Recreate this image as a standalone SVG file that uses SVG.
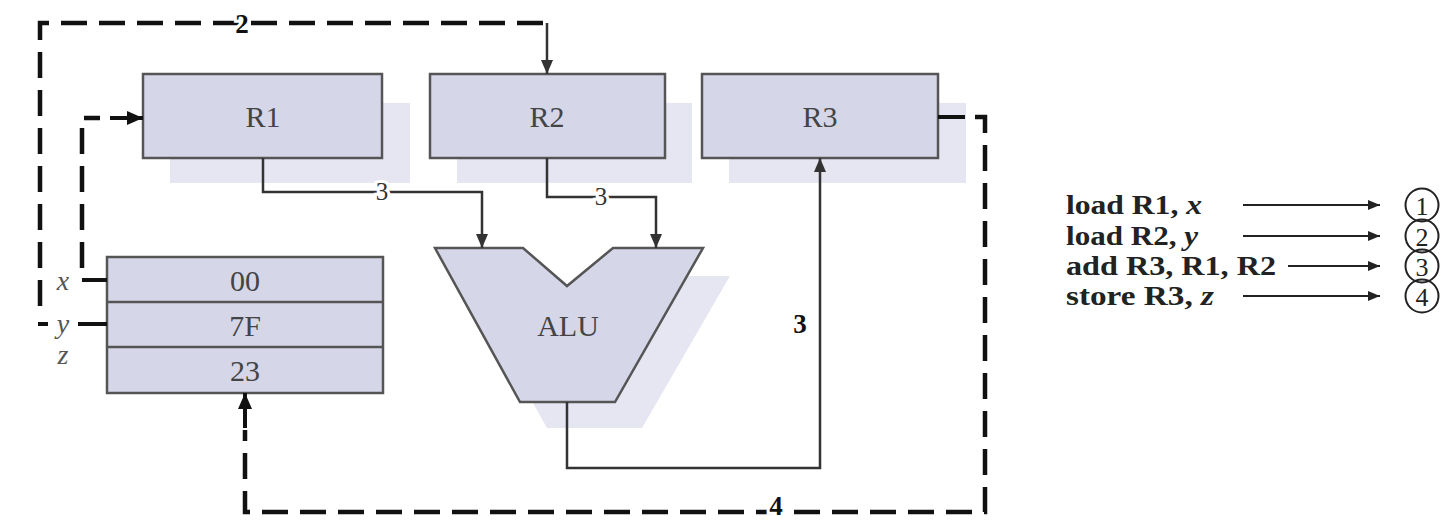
<svg xmlns="http://www.w3.org/2000/svg" width="1456" height="520" viewBox="0 0 1456 520">
<style>
.box{fill:#d6d6e9;stroke:#555;stroke-width:2.5}
.shadow{fill:#e6e6f3;stroke:none}
.lbl{font-family:"Liberation Serif",serif;font-size:30px;fill:#444;text-anchor:middle;dominant-baseline:central}
.var{font-family:"Liberation Serif",serif;font-style:italic;font-size:28px;fill:#555;text-anchor:middle;dominant-baseline:central}
.num{font-family:"Liberation Serif",serif;font-size:25px;fill:#333;text-anchor:middle;dominant-baseline:central;stroke:#fff;stroke-width:6;paint-order:stroke}
.bnum{font-family:"Liberation Serif",serif;font-weight:bold;font-size:27px;fill:#111;text-anchor:middle;dominant-baseline:central;stroke:#fff;stroke-width:6;paint-order:stroke}
.solid{fill:none;stroke:#333;stroke-width:2.5}
.dash{fill:none;stroke:#111;stroke-width:4.5;stroke-dasharray:26 12}
.thick{fill:none;stroke:#111;stroke-width:4}
.instr{font-family:"Liberation Serif",serif;font-weight:bold;font-size:27px;fill:#222;dominant-baseline:central}
.instr tspan.i{font-style:italic}
.circ{fill:none;stroke:#222;stroke-width:2}
.cnum{font-family:"Liberation Serif",serif;font-size:26px;fill:#222;text-anchor:middle;dominant-baseline:central}
.arr{fill:none;stroke:#222;stroke-width:2}
</style>
<defs>
<marker id="ah" markerUnits="userSpaceOnUse" markerWidth="14" markerHeight="12" refX="14" refY="6" orient="auto"><path d="M0,0 L14,6 L0,12 z" fill="#333"/></marker>
<marker id="ahb" markerUnits="userSpaceOnUse" markerWidth="16" markerHeight="14" refX="16" refY="7" orient="auto"><path d="M0,0 L16,7 L0,14 z" fill="#111"/></marker>
<marker id="ahs" markerUnits="userSpaceOnUse" markerWidth="12" markerHeight="10" refX="12" refY="5" orient="auto"><path d="M0,0 L12,5 L0,10 z" fill="#222"/></marker>
</defs>
<rect width="1456" height="520" fill="#ffffff"/>

<g id="shadows">
<rect class="shadow" x="170" y="103" width="240" height="80"/>
<rect class="shadow" x="457" y="103" width="235" height="80"/>
<rect class="shadow" x="729" y="103" width="237" height="80"/>
<polygon class="shadow" points="462,276 551,276 594,314 640,276 730,276 642,428 547,428"/>
</g>

<g id="R1"><rect class="box" x="143" y="74" width="239" height="84"/><text class="lbl" x="263" y="116">R1</text></g>
<g id="R2"><rect class="box" x="430" y="74" width="235" height="84"/><text class="lbl" x="547" y="116">R2</text></g>
<g id="R3"><rect class="box" x="702" y="74" width="236" height="84"/><text class="lbl" x="820" y="116">R3</text></g>

<g id="memory">
<rect class="box" x="107" y="257" width="276" height="136"/>
<line x1="107" y1="302" x2="383" y2="302" stroke="#555" stroke-width="2.5"/>
<line x1="107" y1="347" x2="383" y2="347" stroke="#555" stroke-width="2.5"/>
<text class="lbl" x="245" y="280">00</text>
<text class="lbl" x="245" y="325">7F</text>
<text class="lbl" x="245" y="370">23</text>
<text class="var" x="63" y="280">x</text>
<text class="var" x="63" y="323">y</text>
<text class="var" x="63" y="354">z</text>
</g>

<g id="ALU">
<polygon class="box" points="435,248 523,248 567,286 613,248 703,248 615,402 520,402"/>
<text class="lbl" x="568" y="325">ALU</text>
</g>

<g id="connectors">
<path class="solid" d="M263,158 V192 H482 V248" marker-end="url(#ah)"/>
<text class="num" x="382" y="191">3</text>
<path class="solid" d="M547,158 V197 H656 V248" marker-end="url(#ah)"/>
<text class="num" x="601" y="196">3</text>
<path class="solid" d="M567,402 V468 H820 V158" marker-end="url(#ah)"/>
<text class="bnum" x="800" y="324" style="stroke:none">3</text>
<line class="thick" x1="107" y1="280" x2="82" y2="280"/>
<path class="dash" d="M82,268 V118 H100"/>
<path class="thick" d="M110,118 H143" marker-end="url(#ahb)"/>
<line class="thick" x1="107" y1="324" x2="78" y2="324"/>
<line class="thick" x1="38" y1="324" x2="48" y2="324"/>
<path class="dash" d="M40,306 V23 H547"/>
<path class="solid" d="M547,23 V74" marker-end="url(#ah)"/>
<text class="bnum" x="242" y="24">2</text>
<line class="thick" x1="938" y1="117" x2="965" y2="117"/>
<path class="dash" d="M975,117 H985 V512 H245 V430"/>
<path class="thick" d="M245,428 V393" marker-end="url(#ahb)"/>
<text class="bnum" x="776" y="506">4</text>
</g>

<g id="instr1">
<text class="instr" x="1066" y="205" textLength="136" lengthAdjust="spacingAndGlyphs">load R1, <tspan class="i">x</tspan></text>
<line class="arr" x1="1243" y1="205" x2="1380" y2="205" marker-end="url(#ahs)"/>
<circle class="circ" cx="1422" cy="205" r="16.5"/><text class="cnum" x="1422" y="206">1</text>
</g>
<g id="instr2">
<text class="instr" x="1066" y="236" textLength="132" lengthAdjust="spacingAndGlyphs">load R2, <tspan class="i">y</tspan></text>
<line class="arr" x1="1243" y1="236" x2="1380" y2="236" marker-end="url(#ahs)"/>
<circle class="circ" cx="1422" cy="236" r="16.5"/><text class="cnum" x="1422" y="237">2</text>
</g>
<g id="instr3">
<text class="instr" x="1066" y="266" textLength="210" lengthAdjust="spacingAndGlyphs">add R3, R1, R2</text>
<line class="arr" x1="1288" y1="266" x2="1380" y2="266" marker-end="url(#ahs)"/>
<circle class="circ" cx="1422" cy="266" r="16.5"/><text class="cnum" x="1422" y="267">3</text>
</g>
<g id="instr4">
<text class="instr" x="1066" y="296" textLength="148" lengthAdjust="spacingAndGlyphs">store R3, <tspan class="i">z</tspan></text>
<line class="arr" x1="1243" y1="296" x2="1380" y2="296" marker-end="url(#ahs)"/>
<circle class="circ" cx="1422" cy="296" r="16.5"/><text class="cnum" x="1422" y="297">4</text>
</g>
</svg>
